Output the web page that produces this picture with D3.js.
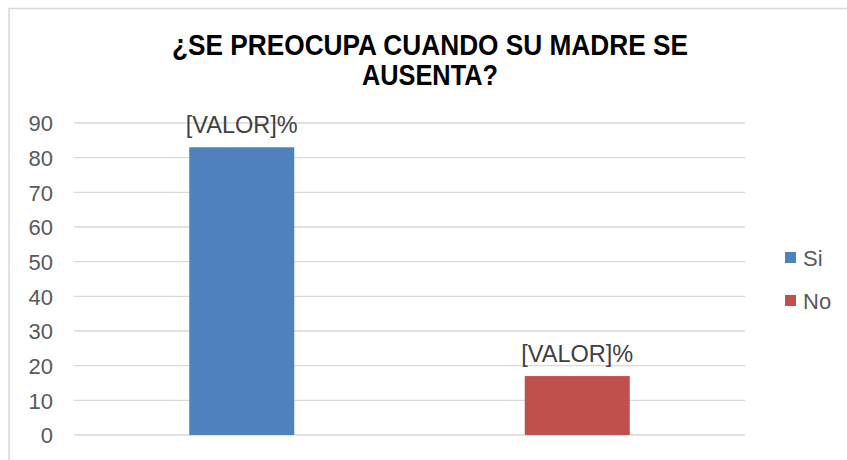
<!DOCTYPE html>
<html>
<head>
<meta charset="utf-8">
<script src="https://cdn.jsdelivr.net/npm/d3@7"></script>
<style>
  html, body { margin: 0; padding: 0; background: #fff; }
  svg { display: block; font-family: Arial, "Liberation Sans", sans-serif; }
</style>
</head>
<body>
<svg id="chart" width="847" height="460"></svg>
<script>
const categories = ["Si", "No"];
const values = [83, 17];
const labels = ["[VALOR]%", "[VALOR]%"];
const colors = ["#4f81bd", "#c0504d"];
const yTicks = [0, 10, 20, 30, 40, 50, 60, 70, 80, 90];
const titleLines = ["¿SE PREOCUPA CUANDO SU MADRE SE", "AUSENTA?"];

const svg = d3.select("#chart");
const W = 847, H = 460;

// outer chart border
svg.append("rect")
  .attr("x", 9).attr("y", 8.5)
  .attr("width", W + 20).attr("height", H + 20)
  .attr("fill", "none").attr("stroke", "#d9d9d9").attr("stroke-width", 1.5);

const plot = { left: 74, right: 745, top: 123, bottom: 435 };

const x = d3.scaleBand()
  .domain(categories)
  .range([plot.left, plot.right])
  .paddingInner(0.687)
  .paddingOuter(0.3435);

const y = d3.scaleLinear()
  .domain([0, 90])
  .range([plot.bottom, plot.top]);

// gridlines
svg.append("g")
  .selectAll("line")
  .data(yTicks)
  .join("line")
  .attr("x1", plot.left).attr("x2", plot.right)
  .attr("y1", d => y(d)).attr("y2", d => y(d))
  .attr("stroke", "#d9d9d9").attr("stroke-width", 1.3);

// y axis labels
const yAxis = d3.axisLeft(y).tickValues(yTicks).tickSize(0).tickPadding(0);
const gy = svg.append("g")
  .attr("transform", `translate(53,0)`)
  .call(yAxis);
gy.select(".domain").remove();
gy.selectAll("text")
  .attr("fill", "#595959")
  .style("font-size", "22px")
  .attr("dy", "0.36em");

// bars
svg.append("g")
  .selectAll("rect")
  .data(categories)
  .join("rect")
  .attr("x", d => x(d))
  .attr("width", x.bandwidth())
  .attr("y", (d, i) => y(values[i]))
  .attr("height", (d, i) => y(0) - y(values[i]))
  .attr("fill", (d, i) => colors[i]);

// data labels
svg.append("g")
  .selectAll("text")
  .data(categories)
  .join("text")
  .attr("x", d => x(d) + x.bandwidth() / 2)
  .attr("y", (d, i) => y(values[i]) - 14.5)
  .attr("text-anchor", "middle")
  .attr("fill", "#404040")
  .style("font-size", "23.5px")
  .text((d, i) => labels[i]);

// title
const title = svg.append("g");
title.selectAll("text")
  .data(titleLines)
  .join("text")
  .attr("x", 430)
  .attr("y", (d, i) => 55 + i * 30)
  .attr("text-anchor", "middle")
  .attr("fill", "#000")
  .style("font-size", "29px")
  .style("font-weight", "bold")
  .attr("textLength", (d, i) => i === 0 ? 516 : 136)
  .attr("lengthAdjust", "spacingAndGlyphs")
  .text(d => d);

// legend
const legend = svg.append("g");
const lg = legend.selectAll("g")
  .data(categories)
  .join("g")
  .attr("transform", (d, i) => `translate(785, ${252 + i * 43})`);
lg.append("rect")
  .attr("width", 11).attr("height", 11)
  .attr("fill", (d, i) => colors[i]);
lg.append("text")
  .attr("x", 18).attr("y", 13.5)
  .attr("fill", "#595959")
  .style("font-size", "22px")
  .text(d => d);
</script>
</body>
</html>
